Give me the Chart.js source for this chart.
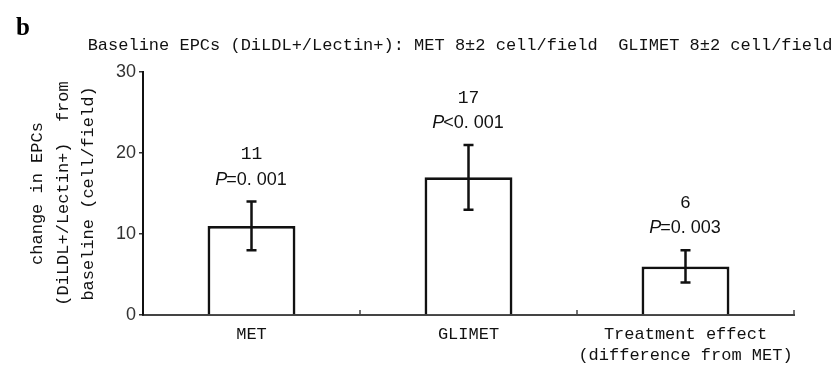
<!DOCTYPE html>
<html>
<head>
<meta charset="utf-8">
<script src="https://cdn.jsdelivr.net/npm/chart.js@4/dist/chart.umd.min.js"></script>
<style>
  html, body { margin: 0; padding: 0; background: #fff; }
  #wrap { width: 840px; height: 369px; position: relative; }
</style>
</head>
<body>
<div id="wrap"><canvas id="c" width="840" height="369"></canvas></div>
<script>
const categories = ["MET", "GLIMET", ["Treatment effect", "(difference from MET)"]];
const means = [11, 17, 6];
const errLow = [8, 13, 4];
const errHigh = [14, 21, 8];
const valueLabels = ["11", "17", "6"];
const pPrefix = ["P", "P", "P"];
const pRest = ["=0. 001", "<0. 001", "=0. 003"];
const yTicks = [0, 10, 20, 30];
const panelLabel = "b";
const chartTitle = "Baseline EPCs (DiLDL+/Lectin+): MET 8\u00B12 cell/field  GLIMET 8\u00B12 cell/field";
const yTitle = ["change in EPCs", "(DiLDL+/Lectin+)  from", "baseline (cell/field)"];

const INK = "#111";
const MONO = "'Liberation Mono', 'DejaVu Sans Mono', monospace";
const SANS = "'Liberation Sans', Arial, sans-serif";

const overlay = {
  id: "overlay",
  afterDatasetsDraw(chart) {
    const ctx = chart.ctx;
    const x = chart.scales.x, y = chart.scales.y;
    const area = chart.chartArea;
    ctx.save();
    // error bars
    ctx.strokeStyle = INK;
    ctx.lineWidth = 2.5;
    means.forEach((m, i) => {
      const cx = x.getPixelForValue(i);
      const yl = y.getPixelForValue(errLow[i]);
      const yh = y.getPixelForValue(errHigh[i]);
      ctx.beginPath();
      ctx.moveTo(cx, yl); ctx.lineTo(cx, yh);
      ctx.moveTo(cx - 5, yl); ctx.lineTo(cx + 5, yl);
      ctx.moveTo(cx - 5, yh); ctx.lineTo(cx + 5, yh);
      ctx.stroke();
      // labels
      const pY = yh - 22;
      const nY = pY - 25;
      ctx.fillStyle = INK;
      ctx.textBaseline = "middle";
      ctx.textAlign = "center";
      ctx.font = "18px " + MONO;
      ctx.fillText(valueLabels[i], cx, nY);
      ctx.font = "italic 18px " + SANS;
      const w1 = ctx.measureText(pPrefix[i]).width;
      ctx.font = "18px " + SANS;
      const w2 = ctx.measureText(pRest[i]).width;
      const startX = cx - (w1 + w2) / 2;
      ctx.textAlign = "left";
      ctx.font = "italic 18px " + SANS;
      ctx.fillText(pPrefix[i], startX, pY);
      ctx.font = "18px " + SANS;
      ctx.fillText(pRest[i], startX + w1 - 1, pY);
    });
    // category boundary ticks on x axis (pointing up)
    ctx.strokeStyle = "#444";
    ctx.lineWidth = 1.5;
    const step = (area.right - area.left) / categories.length;
    for (let k = 1; k <= categories.length; k++) {
      const bx = area.left + step * k;
      ctx.beginPath();
      ctx.moveTo(bx, area.bottom); ctx.lineTo(bx, area.bottom - 5);
      ctx.stroke();
    }
    // titles
    ctx.fillStyle = "#000";
    ctx.textAlign = "left";
    ctx.textBaseline = "alphabetic";
    ctx.font = "bold 25px 'Liberation Serif', 'DejaVu Serif', serif";
    ctx.fillText(panelLabel, 16, 35);
    ctx.fillStyle = INK;
    ctx.textAlign = "center";
    ctx.textBaseline = "middle";
    ctx.font = "17px " + MONO;
    ctx.fillText(chartTitle, 460, 45);
    ctx.restore();
  }
};

new Chart(document.getElementById("c"), {
  type: "bar",
  data: {
    labels: categories,
    datasets: [{
      data: means,
      backgroundColor: "#ffffff",
      borderColor: INK,
      borderWidth: 2.8,
      borderSkipped: "start",
      categoryPercentage: 1.0,
      barPercentage: 0.405
    }]
  },
  options: {
    responsive: false,
    animation: false,
    devicePixelRatio: 1,
    layout: { padding: { left: 0, right: 46, top: 72, bottom: 0 } },
    plugins: { legend: { display: false }, tooltip: { enabled: false }, title: { display: false } },
    scales: {
      x: {
        grid: { display: false, drawTicks: false },
        border: { display: true, color: "#444", width: 2 },
        ticks: {
          color: INK,
          padding: 9,
          font: { family: MONO, size: 17, lineHeight: 1.25 },
          maxRotation: 0, autoSkip: false
        },
        afterFit(s) { s.height = 54; }
      },
      y: {
        min: 0, max: 30,
        afterBuildTicks(s) { s.ticks = yTicks.map(v => ({ value: v })); },
        grid: { drawOnChartArea: false, drawTicks: true, tickLength: 4, color: "#333", lineWidth: 1.5 },
        border: { display: true, color: INK, width: 2 },
        ticks: { color: "#333", padding: 3, font: { family: SANS, size: 18 } },
        title: {
          display: true,
          text: yTitle,
          color: INK,
          font: { family: MONO, size: 17, lineHeight: 1.5 },
          padding: { top: 25, bottom: 0 }
        },
        afterFit(s) { s.width = 143; }
      }
    }
  },
  plugins: [overlay]
});
</script>
</body>
</html>
